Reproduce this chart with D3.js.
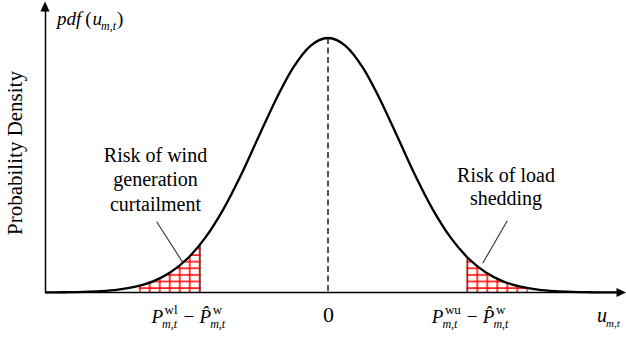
<!DOCTYPE html>
<html>
<head>
<meta charset="utf-8">
<script src="https://cdn.jsdelivr.net/npm/d3@7/dist/d3.min.js"></script>
<style>
  html, body { margin: 0; padding: 0; background: #fff; }
  svg { display: block; }
  text { font-family: "Liberation Serif", "Times New Roman", serif; fill: #000; }
</style>
</head>
<body>
<svg id="chart" width="626" height="337"></svg>
<script>
// Standardised forecast error u (in units of sigma) and its probability density
const uGrid = [-4.04, -3.75, -3.5, -3.25, -3.0, -2.75, -2.5, -2.25, -2.0, -1.75, -1.5, -1.25, -1.0, -0.75, -0.5, -0.25,
               0, 0.25, 0.5, 0.75, 1.0, 1.25, 1.5, 1.75, 2.0, 2.25, 2.5, 2.75, 3.0, 3.25, 3.5, 3.75, 4.0, 4.2];
const density = [0.0001, 0.0004, 0.0009, 0.0020, 0.0044, 0.0091, 0.0175, 0.0317, 0.0540, 0.0863, 0.1295, 0.1826, 0.2420, 0.3011, 0.3521, 0.3867,
                 0.3989, 0.3867, 0.3521, 0.3011, 0.2420, 0.1826, 0.1295, 0.0863, 0.0540, 0.0317, 0.0175, 0.0091, 0.0044, 0.0020, 0.0009, 0.0004, 0.0001, 0.0001];

// Lower / upper wind output limits relative to the forecast, and hatched tail spans
const lowerLimit = -1.83;
const upperLimit = 1.99;
const windRiskSpan = [-2.69, lowerLimit];
const loadRiskSpan = [upperLimit, 2.84];
const windRiskLabel = ["Risk of wind", "generation", "curtailment"];
const loadRiskLabel = ["Risk of load", "shedding"];
const meanTick = [0];

const points = uGrid.map((u, i) => ({ u, p: density[i] }));

const svg = d3.select("#chart");
const x = d3.scaleLinear().domain([-4.043, 4.257]).range([45, 626]);
const y = d3.scaleLinear().domain([0, 0.3989]).range([292.5, 38]);

const line = d3.line().x(d => x(d.u)).y(d => y(d.p)).curve(d3.curveMonotoneX);
const area = d3.area().x(d => x(d.u)).y0(y(0)).y1(d => y(d.p)).curve(d3.curveMonotoneX);

const defs = svg.append("defs");

// Red grid hatching, one pattern per tail so the grid starts at each span edge.
// Lines sit one pixel inside the tile so their full width is kept.
function gridPattern(id, x0) {
  const pat = defs.append("pattern")
    .attr("id", id)
    .attr("patternUnits", "userSpaceOnUse")
    .attr("x", x0 - 1).attr("y", 261.7 - 1)
    .attr("width", 10).attr("height", 6.6);
  pat.append("line").attr("x1", 1).attr("x2", 1).attr("y1", 0).attr("y2", 6.6)
    .attr("stroke", "#ff0000").attr("stroke-width", 1.5);
  pat.append("line").attr("x1", 0).attr("x2", 10).attr("y1", 1).attr("y2", 1)
    .attr("stroke", "#ff0000").attr("stroke-width", 1.5);
}

[["wind", windRiskSpan], ["load", loadRiskSpan]].forEach(([key, span]) => {
  gridPattern("grid-" + key, x(span[0]));
  defs.append("clipPath").attr("id", "clip-" + key)
    .append("rect")
    .attr("x", x(span[0]) - 1).attr("y", 0)
    .attr("width", x(span[1]) - x(span[0]) + 2).attr("height", y(0));
  svg.append("path")
    .datum(points)
    .attr("d", area)
    .attr("fill", "url(#grid-" + key + ")")
    .attr("clip-path", "url(#clip-" + key + ")");
});

// Main density curve
const curve = svg.append("path")
  .datum(points)
  .attr("d", line)
  .attr("fill", "none")
  .attr("stroke", "#000")
  .attr("stroke-width", 2.3);

// Height of the drawn curve at a given u
function curveYAt(u) {
  const node = curve.node();
  const total = node.getTotalLength();
  const target = x(u);
  let lo = 0, hi = total;
  for (let i = 0; i < 40; i++) {
    const mid = (lo + hi) / 2;
    if (node.getPointAtLength(mid).x < target) lo = mid; else hi = mid;
  }
  return node.getPointAtLength(lo).y;
}

// Limit markers
[lowerLimit, upperLimit].forEach(u => {
  svg.append("line")
    .attr("x1", x(u)).attr("x2", x(u))
    .attr("y1", y(0)).attr("y2", curveYAt(u))
    .attr("stroke", "#404040").attr("stroke-width", 1.2);
});

// Dashed line through the mean
svg.append("line")
  .attr("x1", x(0)).attr("x2", x(0))
  .attr("y1", y(d3.max(density))).attr("y2", y(0))
  .attr("stroke", "#555").attr("stroke-width", 2)
  .attr("stroke-dasharray", "6,3.5");

svg.node().appendChild(curve.node());

// Axes with arrowheads
const xAxis = svg.append("g")
  .attr("transform", `translate(0,${y(0)})`)
  .call(d3.axisBottom(x).tickValues(meanTick).tickSize(0).tickPadding(14).tickFormat(d3.format("d")).tickSizeOuter(0));
xAxis.select(".domain").attr("stroke", "#000").attr("stroke-width", 1.5).attr("d", `M45,0H618`);
xAxis.selectAll(".tick text")
  .attr("font-family", "Liberation Serif").attr("font-size", 22).attr("dy", "0.71em");

const yAxisScale = d3.scaleLinear().domain([0, 1]).range([y(0), 10]);
const yAxis = svg.append("g")
  .attr("transform", `translate(${x.range()[0]},0)`)
  .call(d3.axisLeft(yAxisScale).tickValues([]).tickSizeOuter(0));
yAxis.select(".domain").attr("stroke", "#000").attr("stroke-width", 1.5);

svg.append("path").attr("d", `M626,${y(0)}L616.5,${y(0) - 4.6}L616.5,${y(0) + 4.6}Z`).attr("fill", "#000");
svg.append("path").attr("d", `M45,1.5L40.4,11.5L49.6,11.5Z`).attr("fill", "#000");

// Axis titles
svg.append("text")
  .attr("transform", "translate(22,153) rotate(-90)")
  .attr("text-anchor", "middle")
  .attr("font-size", 21)
  .text("Probability Density");

// Helper for a symbol with stacked superscript / subscript
function scripted(g, x0, baseY, base, sup, sub, opts) {
  const o = Object.assign({ size: 19, supSize: 13, subSize: 12, italic: true }, opts || {});
  const b = g.append("text").attr("x", x0).attr("y", baseY)
    .attr("font-size", o.size).attr("font-style", o.italic ? "italic" : "normal").text(base);
  const w = o.hat ? b.node().getSubStringLength(0, 1) : b.node().getComputedTextLength();
  let end = x0 + w;
  if (sup) {
    const s = g.append("text").attr("x", x0 + w + 1.5).attr("y", baseY - 9)
      .attr("font-size", o.supSize).text(sup);
    end = Math.max(end, x0 + w + 1.5 + s.node().getComputedTextLength());
  }
  if (sub) {
    const s = g.append("text").attr("x", x0 + w - 1).attr("y", baseY + 5)
      .attr("font-size", o.subSize).attr("font-style", "italic").text(sub);
    end = Math.max(end, x0 + w - 1 + s.node().getComputedTextLength());
  }
  return end;
}

// pdf(u_{m,t})
const pdfG = svg.append("g");
const pdfT = pdfG.append("text").attr("x", 57).attr("y", 25).attr("font-size", 19)
  .attr("font-style", "italic").text("pdf");
const pdfEnd = 57 + pdfT.node().getComputedTextLength();
const lp = pdfG.append("text").attr("x", pdfEnd + 4).attr("y", 25).attr("font-size", 19).text("(");
let pe = pdfEnd + 4 + lp.node().getComputedTextLength() + 1;
pe = scripted(pdfG, pe, 25, "u", null, "m,t", { size: 19 });
pdfG.append("text").attr("x", pe + 1).attr("y", 25).attr("font-size", 19).text(")");

// Threshold labels under the axis
function thresholdLabel(x0, supText) {
  const g = svg.append("g");
  let e = scripted(g, x0, 322.5, "P", supText, "m,t");
  g.append("text").attr("x", e + 6).attr("y", 322.5).attr("font-size", 19).text("−");
  scripted(g, e + 22, 322.5, "P\u0302", "w", "m,t", { hat: true });
}
thresholdLabel(x(lowerLimit) - 48.5, "wl");
thresholdLabel(x(upperLimit) - 35.5, "wu");

scripted(svg.append("g"), 597, 321.7, "u", null, "m,t", { size: 20, subSize: 11 });

// Annotations with leader lines
const annot = svg.append("g").attr("font-size", 20).attr("text-anchor", "middle");
windRiskLabel.forEach((t, i) => {
  annot.append("text").attr("x", 155.5).attr("y", 161.7 + i * 24.5).text(t);
});
loadRiskLabel.forEach((t, i) => {
  annot.append("text").attr("x", 506).attr("y", 181.7 + i * 23.5).text(t);
});
svg.append("line").attr("x1", 156.7).attr("y1", 221.7).attr("x2", 183.3).attr("y2", 263.3)
  .attr("stroke", "#333").attr("stroke-width", 1.1);
svg.append("line").attr("x1", 507.3).attr("y1", 220.7).attr("x2", 482.7).attr("y2", 263.3)
  .attr("stroke", "#333").attr("stroke-width", 1.1);
</script>
</body>
</html>
